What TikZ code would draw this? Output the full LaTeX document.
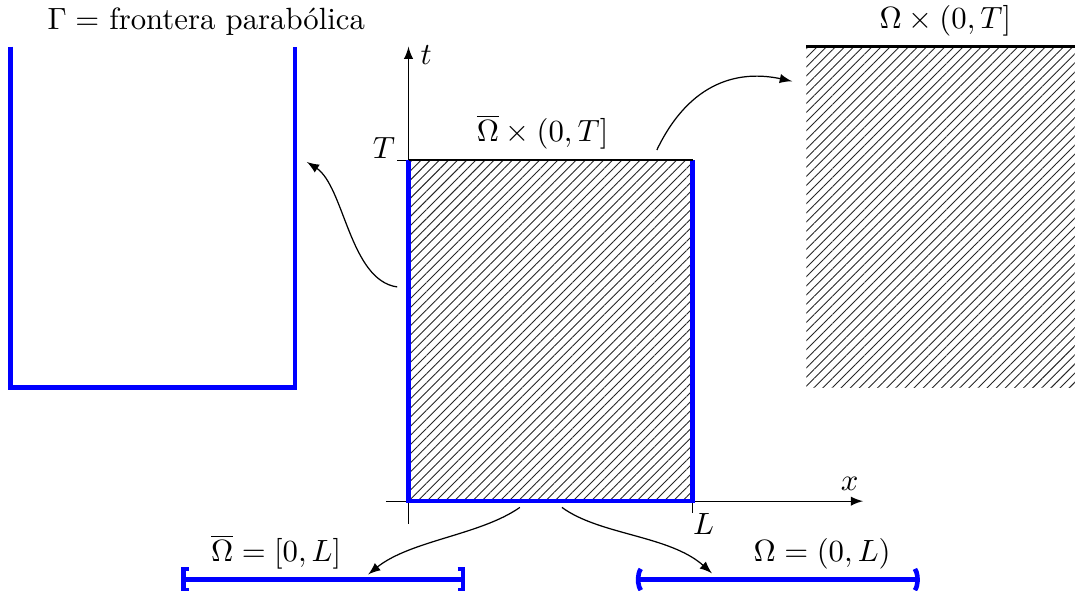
\documentclass[tikz,border=0pt]{standalone}
\usepackage{tikz}
\usetikzlibrary{arrows.meta, patterns.meta, positioning}

\begin{document}
\begin{tikzpicture}[
	x=0.65cm, y=0.65cm,
	>=latex,
	frontera/.style={blue, line width=1.5pt},
	rayado/.style={pattern={Lines[angle=45, distance=2.1pt, line width=0.3pt]}, pattern color=black!85},
	eje/.style={->, line width=0.4pt},
	flecha/.style={->, line width=0.4pt},
	tapa/.style={line width=0.8pt}
	]
	
	\useasboundingbox (-7.19,-1.57) rectangle (11.73,8.82);
	
	% Cilindro
	\fill[rayado] (0,0) rectangle (5,6);
	\draw[eje] (-0.4,0) -- (8,0) node[above left, xshift=2pt] (x) {$x$};
	\draw[eje] (0,-0.4) -- (0,8);
	\node[anchor=north west, inner sep=0pt] (t) at (0.2,8.02) {$t$};
	\draw (-0.2,6) -- (0,6);
	\draw (5,0) -- (5,-0.2);
	\node[anchor=south east, inner sep=0.5pt] (T) at (-0.2,6) {$T$};
	\node[anchor=north west, inner sep=0pt] (L) at (5,-0.2) {$L$};
	\draw[frontera] (0,6) -- (0,0) -- (5,0) -- (5,6);
	\draw[tapa] (0,6) -- (5,6);
	\node[above] (cil) at (2.36,6) {$\overline{\Omega}\times(0,T]$};
	
	% Frontera parabolica
	\draw[frontera] (-7,8) -- (-7,2) -- (-2,2) -- (-2,8);
	\node[above] (gamma) at (-3.56,8) {$\Gamma=$ frontera parabólica};
	
	% Interior
	\fill[rayado] (7,2) rectangle (12,8);
	\draw[tapa] (7,8) -- (12,8);
	\node[above] (int) at (9.45,8) {$\Omega\times(0,T]$};
	
	% Intervalos
	\draw[frontera, {Bracket[width=8.5pt, length=1.8pt]}-{Bracket[width=8.5pt, length=1.8pt]}] (-4,-1.38) -- (1,-1.38);
	\draw[frontera, {Parenthesis[width=9.5pt, length=2.5pt]}-{Parenthesis[width=9.5pt, length=2.5pt]}] (4,-1.38) -- (9,-1.38);
	\node[anchor=base] (cerrado) at (-2.33,-1.07) {$\overline{\Omega}=[0,L]$};
	\node[anchor=base] (abierto) at (7.28,-1.07) {$\Omega=(0,L)$};
	
	% Flechas
	\coordinate (lado) at (-0.2,3.77);
	\coordinate (aGamma) at (-1.79,5.97);
	\coordinate (arriba) at (4.37,6.18);
	\coordinate (aInt) at (6.75,7.39);
	\coordinate (base1) at (1.96,-0.11);
	\coordinate (aCerrado) at (-0.71,-1.29);
	\coordinate (base2) at (2.70,-0.11);
	\coordinate (aAbierto) at (5.34,-1.27);
	
	\draw[flecha] (lado) .. controls (-1.04,3.89) and (-1.13,5.55) .. (aGamma);
	\draw[flecha] (arriba) .. controls (4.96,7.41) and (5.84,7.59) .. (aInt);
	\draw[flecha] (base1) .. controls (1.26,-0.60) and (0.03,-0.69) .. (aCerrado);
	\draw[flecha] (base2) .. controls (3.37,-0.60) and (4.60,-0.60) .. (aAbierto);
	
\end{tikzpicture}
\end{document}
